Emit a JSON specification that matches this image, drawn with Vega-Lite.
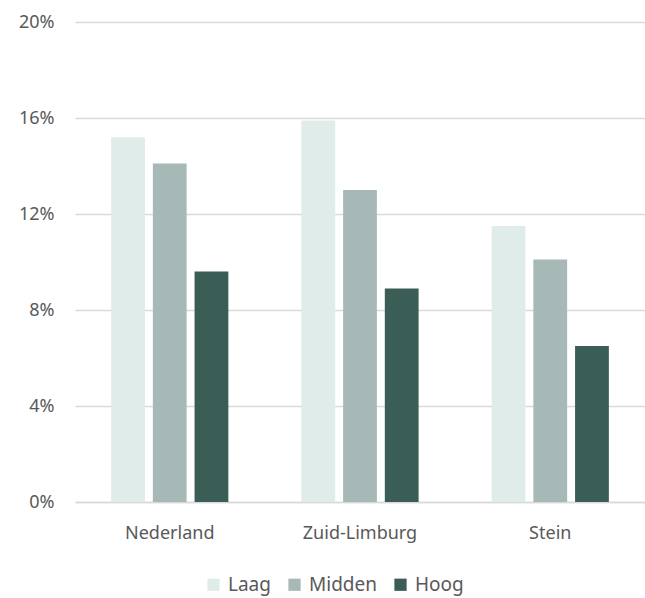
{
  "$schema": "https://vega.github.io/schema/vega-lite/v6.json",
  "autosize": "none",
  "width": 570,
  "height": 480,
  "padding": {"left": 75, "top": 22, "right": 0, "bottom": 96},
  "background": "white",
  "config": {
    "view": {"stroke": null},
    "font": "Noto Sans"
  },
  "data": {
    "values": [
      {"regio": "Nederland", "niveau": "Laag", "waarde": 0.152},
      {"regio": "Nederland", "niveau": "Midden", "waarde": 0.141},
      {"regio": "Nederland", "niveau": "Hoog", "waarde": 0.096},
      {"regio": "Zuid-Limburg", "niveau": "Laag", "waarde": 0.159},
      {"regio": "Zuid-Limburg", "niveau": "Midden", "waarde": 0.130},
      {"regio": "Zuid-Limburg", "niveau": "Hoog", "waarde": 0.089},
      {"regio": "Stein", "niveau": "Laag", "waarde": 0.115},
      {"regio": "Stein", "niveau": "Midden", "waarde": 0.101},
      {"regio": "Stein", "niveau": "Hoog", "waarde": 0.065}
    ]
  },
  "mark": {"type": "bar"},
  "encoding": {
    "x": {
      "field": "regio",
      "type": "nominal",
      "sort": ["Nederland", "Zuid-Limburg", "Stein"],
      "scale": {"paddingInner": 0.384, "paddingOuter": 0.19},
      "axis": {
        "title": null,
        "labelAngle": 0,
        "ticks": false,
        "domain": true,
        "domainColor": "#d9d9d9",
        "domainWidth": 1.3,
        "labelPadding": 22,
        "labelFontSize": 18,
        "labelColor": "#595959",
        "labelFont": "Noto Sans"
      }
    },
    "xOffset": {
      "field": "niveau",
      "type": "nominal",
      "sort": ["Laag", "Midden", "Hoog"],
      "scale": {"paddingInner": 0.19, "paddingOuter": 0}
    },
    "y": {
      "field": "waarde",
      "type": "quantitative",
      "scale": {"domain": [0, 0.2]},
      "axis": {
        "title": null,
        "values": [0, 0.04, 0.08, 0.12, 0.16, 0.2],
        "format": ".0%",
        "domain": false,
        "ticks": false,
        "grid": true,
        "gridColor": "#d9d9d9",
        "gridWidth": 1.3,
        "labelPadding": 21,
        "labelFontSize": 18,
        "labelColor": "#595959",
        "labelFont": "Noto Sans"
      }
    },
    "color": {
      "field": "niveau",
      "type": "nominal",
      "sort": ["Laag", "Midden", "Hoog"],
      "scale": {
        "domain": ["Laag", "Midden", "Hoog"],
        "range": ["#e0ece9", "#a7b9b7", "#3a5d56"]
      },
      "legend": {
        "title": null,
        "orient": "none",
        "direction": "horizontal",
        "legendX": 129,
        "legendY": 553,
        "symbolType": "square",
        "symbolSize": 150,
        "symbolStrokeWidth": 0,
        "labelFontSize": 19,
        "labelColor": "#595959",
        "labelFont": "Noto Sans",
        "labelOffset": 5,
        "columnPadding": 14,
        "symbolOffset": 0
      }
    }
  }
}
